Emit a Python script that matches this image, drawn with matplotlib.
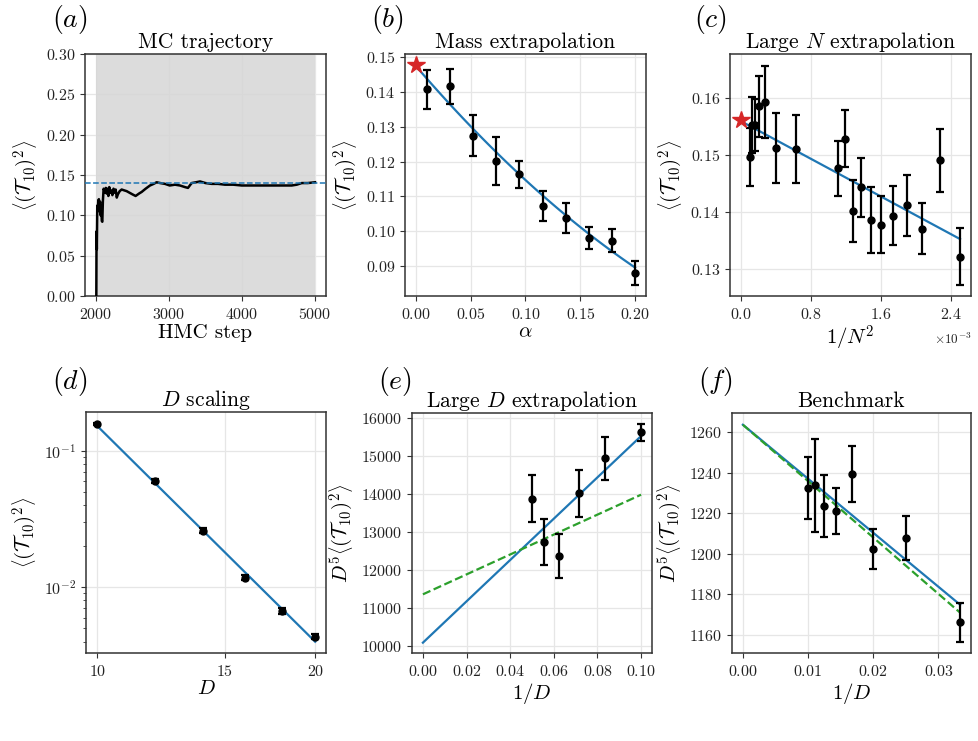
import numpy as np
import matplotlib
matplotlib.use("Agg")
import matplotlib.pyplot as plt
from matplotlib.ticker import MultipleLocator, NullLocator, NullFormatter, ScalarFormatter, FixedLocator

plt.rcParams.update({
    'font.family': 'serif',
    'font.serif': ['cmr10'],
    'mathtext.fontset': 'cm',
    'axes.formatter.use_mathtext': True,
    'axes.unicode_minus': False,
    'font.size': 12,
    'axes.edgecolor': '#333333',
    'axes.linewidth': 1.1,
    'xtick.color': '#333333',
    'ytick.color': '#333333',
    'xtick.labelcolor': '#222222',
    'ytick.labelcolor': '#222222',
    'xtick.major.size': 3.5,
    'ytick.major.size': 3.5,
    'xtick.major.pad': 4.5,
    'xtick.labelsize': 11.5,
    'ytick.labelsize': 11.5,
    'grid.color': '#e6e6e6',
    'grid.linewidth': 0.9,
})

# ---------------- data ----------------
# (a) MC trajectory
traj_band_steps = [2000, 5000]
traj_band_lo = [0.0, 0.0]
traj_band_hi = [0.4, 0.4]
run_steps = [2005, 2008, 2012, 2018, 2025, 2032, 2040, 2048, 2056, 2064,
             2072, 2080, 2087, 2095, 2105, 2114, 2125, 2135, 2146, 2158,
             2170, 2182, 2195, 2210, 2225, 2240, 2255, 2270, 2285, 2300,
             2325, 2352, 2385, 2420, 2460, 2500, 2543, 2590, 2626, 2680,
             2740, 2790, 2831, 2880, 2945, 3010, 3082, 3150, 3219, 3260,
             3310, 3370, 3425, 3500, 3585, 3670, 3767, 3880, 3996, 4110,
             4224, 4360, 4498, 4600, 4681, 4750, 4818, 4900, 5000]
run_vals = [0.0, 0.080, 0.058, 0.112, 0.105, 0.118, 0.120, 0.108, 0.117, 0.100,
            0.112, 0.093, 0.092, 0.118, 0.133, 0.131, 0.128, 0.134, 0.127, 0.133,
            0.124, 0.135, 0.128, 0.131, 0.125, 0.133, 0.128, 0.132, 0.122, 0.126,
            0.130, 0.132, 0.131, 0.130, 0.128, 0.126, 0.124, 0.127, 0.129, 0.133,
            0.137, 0.139, 0.141, 0.140, 0.139, 0.137, 0.138, 0.137, 0.135, 0.134,
            0.140, 0.141, 0.142, 0.140, 0.139, 0.139, 0.138, 0.138, 0.137, 0.137,
            0.137, 0.137, 0.137, 0.137, 0.137, 0.138, 0.140, 0.140, 0.141]
run_final = 0.1405

# (b) Mass extrapolation
alpha = [0.0097, 0.031, 0.052, 0.073, 0.094, 0.116, 0.137, 0.158, 0.179, 0.200]
b_vals = [0.1408, 0.1417, 0.1275, 0.1203, 0.1164, 0.1073, 0.1038, 0.0979, 0.0972, 0.0880]
b_errs = [0.0055, 0.0050, 0.0058, 0.0069, 0.0039, 0.0043, 0.0044, 0.0032, 0.0033, 0.0035]
b_fit = [0.1475, -0.366, 0.38]   # c0 + c1*a + c2*a^2
b_star = 0.1477

# (c) Large N extrapolation
N_vals = [100, 90, 80, 70, 60, 50, 40, 30, 29, 28, 27, 26, 25, 24, 23, 22, 21, 20]
c_vals = [0.1497, 0.1553, 0.1553, 0.1586, 0.1594, 0.1513, 0.1511, 0.1477, 0.1529,
          0.1402, 0.1444, 0.1387, 0.1378, 0.1394, 0.1412, 0.1371, 0.1491, 0.1322]
c_errs = [0.0051, 0.0049, 0.0046, 0.0054, 0.0063, 0.0062, 0.0059, 0.0049, 0.0050,
          0.0054, 0.0052, 0.0058, 0.0050, 0.0052, 0.0054, 0.0045, 0.0056, 0.0050]
c_fit = [0.1560, -8.28]   # c0 + c1 * (1/N^2)
c_star = 0.1562

# (d) D scaling
D_d = [10, 12, 14, 16, 18, 20]
d_vals = [0.1562, 0.0600, 0.0260, 0.01178, 0.00673, 0.00434]
d_errs = [0.0022, 0.00225, 0.00113, 0.00056, 0.00032, 0.00019]
d_fit = [2.7e4, 5.25]   # A * D^(-p)

# (e) Large D extrapolation
D_e = [20, 18, 16, 14, 12, 10]
e_vals = [13877, 12728, 12368, 14018, 14939, 15623]
e_errs = [618, 605, 583, 610, 561, 224]
e_fit_blue = [10088, 54380]
e_fit_green = [11360, 26220]

# (f) Benchmark
D_f = [100, 90, 80, 70, 60, 50, 40, 30]
f_vals = [1232.4, 1233.7, 1223.5, 1221.2, 1239.4, 1202.1, 1207.9, 1166.1]
f_errs = [15.4, 22.9, 15.4, 11.3, 13.9, 9.9, 10.9, 9.6]
f_fit_blue = [1263.6, -2664]
f_fit_green = [1263.6, -2781]

# ---------------- figure ----------------
W, H = 979, 741
fig = plt.figure(figsize=(W / 100, H / 100), dpi=100)

def make_ax(l, t, w=241, h=242):
    return fig.add_axes([l / W, (H - t - h) / H, w / W, h / H])

ylab = r'$\left\langle(\mathcal{T}_{10})^2\right\rangle$'
ylab5 = r'$D^5\left\langle(\mathcal{T}_{10})^2\right\rangle$'
TS, LS, YS, PS = 15.5, 15, 15, 20
BLUE, GREEN, RED = '#1f77b4', '#2ca02c', '#d62728'
eb_kw = dict(fmt='o', color='black', ms=5, capsize=3.2, elinewidth=1.6, capthick=1.6, zorder=3)

def style(ax):
    ax.grid(True, which='major', zorder=0)
    ax.set_axisbelow(True)

def letter(x, y, s):
    fig.text(x / W, 1 - y / H, s, fontsize=PS, ha='left', va='center')

# (a)
ax = make_ax(85, 54)
style(ax)
ax.fill_between(traj_band_steps, traj_band_lo, traj_band_hi, color='#d6d6d6', alpha=0.85, lw=0, zorder=1)
ax.plot(run_steps, run_vals, color='black', lw=1.8, zorder=3)
ax.axhline(run_final, color=BLUE, ls='--', lw=1.1, zorder=4)
ax.set_xlim(1850, 5150)
ax.set_ylim(0, 0.30)
ax.set_xticks([2000, 3000, 4000, 5000])
ax.set_title('MC trajectory', fontsize=TS, pad=4)
ax.set_xlabel('HMC step', fontsize=LS, labelpad=1)
ax.set_ylabel(ylab, fontsize=YS, labelpad=3)
letter(52, 20, '$(a)$')

# (b)
ax = make_ax(405, 54)
style(ax)
ax.errorbar(alpha, b_vals, yerr=b_errs, **eb_kw)
ag = np.linspace(0, max(alpha), 100)
ax.plot(ag, np.polyval(b_fit[::-1], ag), color=BLUE, lw=1.6, zorder=2)
ax.plot([0], [b_star], marker='*', color=RED, ms=13, ls='none', zorder=4)
ax.set_xlim(-0.01, 0.21)
ax.set_ylim(0.0813, 0.151)
ax.set_xticks([0.0, 0.05, 0.10, 0.15, 0.20])
ax.set_title('Mass extrapolation', fontsize=TS, pad=4)
ax.set_xlabel(r'$\alpha$', fontsize=LS, labelpad=1)
ax.set_ylabel(ylab, fontsize=YS, labelpad=3)
letter(371, 20, '$(b)$')

# (c)
ax = make_ax(730, 54)
style(ax)
xc = 1.0 / np.array(N_vals, dtype=float) ** 2
ax.errorbar(xc, c_vals, yerr=c_errs, **eb_kw)
xg = np.array([0, xc.max()])
ax.plot(xg, c_fit[0] + c_fit[1] * xg, color=BLUE, lw=1.6, zorder=2)
ax.plot([0], [c_star], marker='*', color=RED, ms=13, ls='none', zorder=4)
ax.set_xlim(-0.125e-3, 2.625e-3)
ax.set_ylim(0.1253, 0.1678)
ax.xaxis.set_major_locator(MultipleLocator(0.8e-3))
fmt = ScalarFormatter(useMathText=True)
fmt.set_powerlimits((0, 0))
ax.xaxis.set_major_formatter(fmt)
ax.xaxis.OFFSETTEXTPAD = 7
ax.set_title(r'Large $N$ extrapolation', fontsize=TS, pad=4)
ax.set_xlabel(r'$1/N^2$', fontsize=LS, labelpad=1)
ax.set_ylabel(ylab, fontsize=YS, labelpad=3)
ax.xaxis.get_offset_text().set_fontsize(9.5)
letter(694, 20, '$(c)$')

# (d)
ax = make_ax(86, 412, 240, 241)
style(ax)
ax.set_xscale('log')
ax.set_yscale('log')
ax.errorbar(D_d, d_vals, yerr=d_errs, **eb_kw)
Dg = np.linspace(min(D_d), max(D_d), 100)
ax.plot(Dg, d_fit[0] * Dg ** (-d_fit[1]), color=BLUE, lw=1.6, zorder=2)
ax.set_xlim(9.65, 20.7)
ax.set_ylim(0.0033, 0.192)
ax.xaxis.set_major_locator(FixedLocator([10, 15, 20]))
ax.xaxis.set_major_formatter(ScalarFormatter())
ax.xaxis.set_minor_locator(NullLocator())
ax.xaxis.set_minor_formatter(NullFormatter())
ax.tick_params(axis='y', which='minor', length=2.2)
ax.set_title(r'$D$ scaling', fontsize=TS, pad=4)
ax.set_xlabel(r'$D$', fontsize=LS, labelpad=1)
ax.set_ylabel(ylab, fontsize=YS, labelpad=3)
letter(52, 382, '$(d)$')

# (e)
ax = make_ax(412, 413, 240, 240)
style(ax)
xe = 1.0 / np.array(D_e, dtype=float)
ax.errorbar(xe, e_vals, yerr=e_errs, **eb_kw)
xg = np.array([0, xe.max()])
ax.plot(xg, e_fit_blue[0] + e_fit_blue[1] * xg, color=BLUE, lw=1.6, zorder=2)
ax.plot(xg, e_fit_green[0] + e_fit_green[1] * xg, color=GREEN, lw=1.6, ls='--', zorder=2)
ax.set_xlim(-0.005, 0.105)
ax.set_ylim(9816, 16132)
ax.xaxis.set_major_locator(MultipleLocator(0.02))
ax.yaxis.set_major_locator(MultipleLocator(1000))
ax.set_title(r'Large $D$ extrapolation', fontsize=TS, pad=4)
ax.set_xlabel(r'$1/D$', fontsize=LS, labelpad=1)
ax.set_ylabel(ylab5, fontsize=YS, labelpad=3)
letter(378, 382, '$(e)$')

# (f)
ax = make_ax(732, 413, 239, 240)
style(ax)
xf = 1.0 / np.array(D_f, dtype=float)
ax.errorbar(xf, f_vals, yerr=f_errs, **eb_kw)
xg = np.array([0, xf.max()])
ax.plot(xg, f_fit_blue[0] + f_fit_blue[1] * xg, color=BLUE, lw=1.6, zorder=2)
ax.plot(xg, f_fit_green[0] + f_fit_green[1] * xg, color=GREEN, lw=1.6, ls='--', zorder=2)
ax.set_xlim(-0.00167, 0.035)
ax.set_ylim(1151, 1269.4)
ax.xaxis.set_major_locator(MultipleLocator(0.01))
ax.yaxis.set_major_locator(MultipleLocator(20))
ax.set_title('Benchmark', fontsize=TS, pad=4)
ax.set_xlabel(r'$1/D$', fontsize=LS, labelpad=1)
ax.set_ylabel(ylab5, fontsize=YS, labelpad=3)
letter(698, 382, '$(f)$')

fig.savefig('out.png', dpi=100)
